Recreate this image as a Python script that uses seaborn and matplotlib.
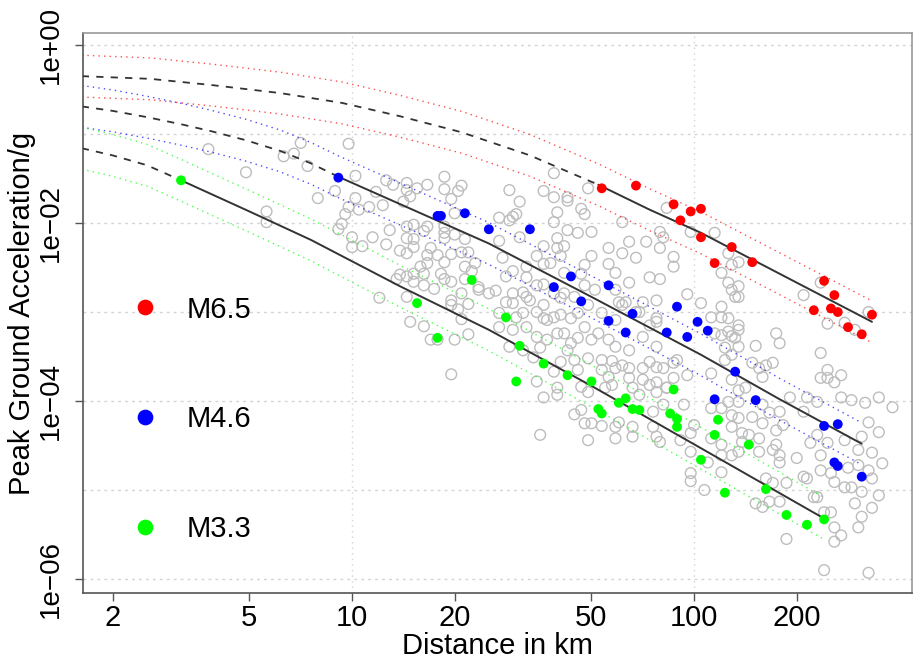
import numpy as np
import pandas as pd
import seaborn as sns
import matplotlib.pyplot as plt

# all values as log10(distance km), log10(PGA g)

# median prediction curves (nodes), index where recorded data start
m65_curve_logd = [0.21, 0.41, 0.59, 0.79, 0.97, 1.14, 1.32, 1.52, 1.72, 1.87, 2.02, 2.27, 2.52]
m65_curve_logp = [-0.35, -0.38, -0.45, -0.54, -0.65, -0.80, -0.98, -1.24, -1.57, -1.85, -2.11, -2.61, -3.11]
m65_start = 8
m46_curve_logd = [0.21, 0.30, 0.40, 0.50, 0.59, 0.69, 0.79, 0.88, 0.96, 1.40, 1.70, 2.02, 2.25, 2.49]
m46_curve_logp = [-0.69, -0.74, -0.81, -0.89, -0.97, -1.07, -1.19, -1.33, -1.48, -2.23, -2.83, -3.48, -3.98, -4.48]
m46_start = 8
m33_curve_logd = [0.21, 0.30, 0.40, 0.50, 0.70, 0.88, 1.14, 1.40, 1.70, 2.02, 2.38]
m33_curve_logp = [-1.16, -1.24, -1.35, -1.52, -1.87, -2.19, -2.71, -3.20, -3.83, -4.53, -5.32]
m33_start = 3
sigma_log = 0.235

# recordings of the three highlighted events
m65_logd = [1.73, 1.83, 1.94, 1.99, 2.02, 1.96, 2.02, 2.06, 2.11, 2.17, 2.38, 2.41, 2.35,
            2.40, 2.42, 2.52, 2.45, 2.49]
m65_logp = [-1.61, -1.58, -1.79, -1.87, -1.84, -1.97, -2.16, -2.45, -2.27, -2.44, -2.65, -2.81,
            -2.98, -2.96, -3.00, -3.03, -3.17, -3.25]
m46_logd = [0.96, 1.25, 1.26, 1.33, 1.40, 1.52, 1.64, 1.59, 1.75, 1.67, 1.82, 1.75, 1.80,
            1.95, 2.01, 1.92, 1.98, 2.04, 2.12, 2.06, 2.18, 2.38, 2.42, 2.41, 2.42, 2.49]
m46_logp = [-1.49, -1.92, -1.92, -1.89, -2.07, -2.07, -2.60, -2.72, -2.70, -2.88, -3.02, -3.10,
            -3.23, -2.94, -3.11, -3.23, -3.28, -3.21, -3.67, -3.98, -3.99, -4.28, -4.26, -4.69,
            -4.73, -4.85]
m33_logd = [0.50, 1.19, 1.25, 1.35, 1.45, 1.49, 1.48, 1.56, 1.63, 1.70, 1.72, 1.73, 1.78,
            1.80, 1.82, 1.84, 1.93, 1.94, 1.95, 1.95, 2.02, 2.07, 2.06, 2.16, 2.09, 2.21,
            2.27, 2.33, 2.38]
m33_logp = [-1.52, -2.90, -3.29, -2.64, -3.06, -3.38, -3.78, -3.58, -3.71, -3.78, -4.09, -4.14,
            -4.02, -3.97, -4.09, -4.10, -4.14, -3.87, -4.20, -4.29, -4.66, -4.21, -4.38, -4.49,
            -5.03, -4.99, -5.28, -5.39, -5.33]

# all other recordings (grey)
other_records = [
    (0.58, -1.17), (0.69, -1.43), (0.75, -1.87), (0.75, -1.99), (0.80, -1.25), (0.83, -1.22),
    (0.85, -1.10), (0.87, -1.36), (0.90, -1.72), (0.95, -1.64), (0.99, -1.11), (1.01, -1.47),
    (0.99, -1.82), (1.01, -1.72), (1.02, -1.85), (0.97, -2.01), (0.96, -2.07), (0.98, -1.90),
    (1.00, -2.16), (1.03, -2.26), (1.00, -2.27), (1.06, -2.16), (1.05, -1.82), (1.07, -1.65),
    (1.09, -1.80), (1.10, -2.24), (1.11, -2.08), (1.10, -1.52), (1.12, -1.57), (1.16, -1.63),
    (1.16, -1.55), (1.17, -1.70), (1.15, -1.76), (1.19, -1.61), (1.22, -1.57), (1.27, -1.48),
    (1.27, -1.62), (1.31, -1.64), (1.32, -1.58), (1.29, -1.73), (1.30, -1.89), (1.22, -2.04),
    (1.27, -2.04), (1.27, -2.11), (1.30, -2.13), (1.33, -2.18), (1.27, -2.17), (1.18, -2.02),
    (1.21, -2.09), (1.16, -2.04), (1.14, -2.31), (1.16, -2.34), (1.16, -2.17), (1.18, -2.18),
    (1.18, -2.27), (1.23, -2.28), (1.25, -2.36), (1.22, -2.36), (1.29, -2.35), (1.32, -2.33),
    (1.34, -2.33), (1.27, -2.44), (1.20, -2.49), (1.22, -2.45), (1.33, -2.49), (1.36, -2.45),
    (1.35, -2.54), (1.14, -2.58), (1.16, -2.60), (1.18, -2.57), (1.21, -2.57), (1.13, -2.63),
    (1.18, -2.66), (1.21, -2.70), (1.26, -2.57), (1.27, -2.63), (1.29, -2.66), (1.24, -2.74),
    (1.33, -2.63), (1.37, -2.72), (1.37, -2.75), (1.40, -2.79), (1.32, -2.79), (1.29, -2.87),
    (1.29, -2.92), (1.34, -2.91), (1.31, -2.97), (1.32, -3.08), (1.08, -2.84), (1.16, -2.83),
    (1.17, -3.11), (1.21, -3.16), (1.23, -3.31), (1.25, -3.31), (1.30, -3.31), (1.34, -3.25),
    (1.29, -3.70),
    (1.59, -1.44), (1.46, -1.63), (1.49, -1.76), (1.56, -1.64), (1.59, -1.71), (1.63, -1.71),
    (1.63, -1.75), (1.69, -1.61), (1.60, -1.88), (1.59, -1.99), (1.67, -1.84), (1.68, -1.90),
    (1.43, -1.94), (1.47, -1.93), (1.48, -1.90), (1.46, -1.97), (1.63, -2.08), (1.66, -2.11),
    (1.70, -2.10), (1.79, -1.99), (1.90, -2.10), (1.91, -2.16), (1.99, -2.10), (1.43, -2.20),
    (1.49, -2.16), (1.60, -2.17), (1.56, -2.26), (1.60, -2.28), (1.62, -2.26), (1.61, -2.37),
    (1.54, -2.37), (1.44, -2.39), (1.70, -2.37), (1.75, -2.28), (1.79, -2.34), (1.81, -2.21),
    (1.86, -2.21), (1.90, -2.28), (1.94, -2.38), (1.83, -2.39), (1.94, -2.49), (1.75, -2.46),
    (1.68, -2.47), (1.58, -2.45), (1.56, -2.46), (1.51, -2.49), (1.47, -2.54), (1.45, -2.60),
    (1.51, -2.61), (1.62, -2.56), (1.67, -2.57), (1.77, -2.56), (1.87, -2.61), (1.90, -2.63),
    (1.68, -2.70), (1.71, -2.75), (1.81, -2.67), (1.77, -2.75), (1.54, -2.70), (1.56, -2.69),
    (1.42, -2.76), (1.47, -2.79), (1.50, -2.78), (1.51, -2.83), (1.52, -2.87), (1.59, -2.79),
    (1.61, -2.84), (1.62, -2.79), (1.65, -2.83), (1.69, -2.92), (1.78, -2.89), (1.79, -2.92),
    (1.80, -2.89), (1.85, -2.89), (1.89, -2.87), (1.98, -2.80), (1.45, -2.89), (1.47, -2.90),
    (1.48, -3.06), (1.50, -3.01), (1.54, -3.00), (1.56, -2.92), (1.56, -3.07), (1.57, -3.09),
    (1.59, -3.06), (1.61, -3.03), (1.64, -3.07), (1.66, -3.01), (1.68, -3.17), (1.73, -3.01),
    (1.77, -3.09), (1.83, -3.00), (1.84, -3.00), (1.89, -3.07), (1.89, -3.11), (1.87, -3.15),
    (1.43, -3.01), (1.43, -3.17), (1.47, -3.20), (1.51, -3.17), (1.54, -3.28), (1.57, -3.31),
    (1.60, -3.24), (1.62, -3.24), (1.64, -3.35), (1.66, -3.29), (1.70, -3.31), (1.72, -3.24),
    (1.75, -3.31), (1.77, -3.39), (1.81, -3.43), (1.85, -3.28), (1.89, -3.39), (1.46, -3.39),
    (1.50, -3.43), (1.55, -3.40), (1.63, -3.43), (1.92, -1.83),
    (2.06, -2.11), (2.10, -2.34), (2.11, -2.47), (2.13, -2.44), (2.08, -2.56), (2.10, -2.67),
    (2.11, -2.75), (2.13, -2.71), (2.12, -2.83), (2.13, -2.83), (2.32, -2.81), (2.37, -2.67),
    (2.51, -3.00), (2.39, -3.13), (2.44, -3.12), (2.47, -3.20), (2.02, -2.90), (2.08, -2.94),
    (2.05, -3.06), (2.08, -3.06), (2.10, -3.07), (2.13, -3.15), (2.06, -3.24), (2.08, -3.26),
    (2.10, -3.22), (2.11, -3.27), (2.12, -3.29), (2.13, -3.20), (2.13, -3.39), (2.09, -3.40),
    (2.18, -3.38), (2.24, -3.24), (2.25, -3.35), (2.37, -3.46),
    (1.53, -3.51), (1.61, -3.56), (1.65, -3.54), (1.69, -3.52), (1.73, -3.54), (1.76, -3.55),
    (1.77, -3.63), (1.79, -3.60), (1.81, -3.63), (1.85, -3.63), (1.87, -3.56), (1.89, -3.62),
    (1.91, -3.63), (1.94, -3.57), (1.95, -3.54), (1.98, -3.71), (1.59, -3.67), (1.66, -3.65),
    (1.73, -3.65), (1.75, -3.73), (1.76, -3.82), (1.81, -3.74), (1.85, -3.76), (1.87, -3.82),
    (1.89, -3.79), (1.92, -3.85), (1.94, -3.74), (1.54, -3.78), (1.56, -3.96), (1.60, -3.85),
    (1.60, -3.93), (1.67, -3.84), (1.69, -3.90), (1.74, -3.85), (1.82, -3.85), (1.84, -3.93),
    (1.89, -3.90), (1.92, -3.85), (1.67, -4.10), (1.65, -4.15), (1.68, -4.25), (1.70, -4.25),
    (1.73, -4.28), (1.77, -4.29), (1.78, -4.24), (1.82, -4.29), (1.88, -4.29), (1.88, -4.12),
    (1.91, -4.04), (1.97, -4.04), (1.99, -4.36), (2.00, -4.27), (1.89, -4.40), (1.90, -4.46),
    (1.82, -4.40), (1.77, -4.42), (1.69, -4.44), (1.55, -4.38), (1.96, -4.44), (1.99, -4.57),
    (1.99, -4.81), (1.99, -4.90),
    (2.09, -3.54), (2.11, -3.48), (2.19, -3.63), (2.21, -3.60), (2.23, -3.57), (2.20, -3.73),
    (2.17, -3.57), (2.05, -3.69), (2.11, -3.76), (2.13, -3.88), (2.15, -3.85), (2.10, -4.01),
    (2.13, -4.01), (2.20, -4.04), (2.05, -4.08), (2.08, -4.08), (2.11, -4.16), (2.17, -4.18),
    (2.22, -4.13), (2.25, -4.12), (2.13, -4.19), (2.11, -4.29), (2.20, -4.25), (2.24, -4.33),
    (2.26, -4.27), (2.28, -3.96), (2.32, -4.12), (2.33, -3.96), (2.36, -4.01), (2.39, -3.65),
    (2.37, -3.74), (2.39, -3.74), (2.41, -3.79), (2.43, -3.71), (2.43, -3.96), (2.46, -3.99),
    (2.50, -4.02), (2.54, -3.96), (2.58, -4.07), (2.54, -4.35), (2.51, -4.24), (2.49, -4.40),
    (2.48, -4.55), (2.52, -4.58), (2.55, -4.70), (2.52, -4.87), (2.44, -4.44), (2.39, -4.47),
    (2.36, -4.38), (2.34, -4.47), (2.30, -4.64), (2.37, -4.61), (2.37, -4.78), (2.41, -4.91),
    (2.45, -4.75), (2.48, -4.72), (2.51, -4.78), (2.40, -4.81), (2.33, -4.87), (2.32, -4.85),
    (2.27, -4.92), (2.24, -4.49), (2.23, -4.55), (2.25, -4.61), (2.25, -4.69), (2.21, -4.87),
    (2.23, -4.92), (2.19, -4.57), (2.16, -4.38), (2.19, -4.42), (2.14, -4.36), (2.14, -4.46),
    (2.08, -4.49), (2.08, -4.61), (2.11, -4.61), (2.13, -4.57), (2.05, -4.42), (2.04, -4.69),
    (2.08, -4.80), (2.03, -5.00), (2.18, -5.15), (2.20, -5.19), (2.22, -5.13), (2.25, -5.13),
    (2.35, -5.08), (2.36, -5.08), (2.44, -4.97), (2.46, -4.97), (2.49, -5.02), (2.54, -5.06),
    (2.47, -5.15), (2.52, -5.20), (2.38, -5.25), (2.40, -5.25), (2.41, -5.42), (2.43, -5.51),
    (2.48, -5.42), (2.49, -5.30), (2.41, -5.58), (2.27, -5.55), (2.38, -5.90), (2.51, -5.93),
]

event_labels = ["M6.5", "M4.6", "M3.3"]
event_colors = ["#ff0000", "#0000ff", "#00ff00"]
x_ticks = [2, 5, 10, 20, 50, 100, 200]
y_ticks = [1e0, 1e-2, 1e-4, 1e-6]
y_tick_labels = ["1e+00", "1e\u221202", "1e\u221204", "1e\u221206"]

# ---- build data frames
bg = pd.DataFrame(other_records, columns=["logd", "logp"])
bg["dist"] = 10 ** bg["logd"]
bg["pga"] = 10 ** bg["logp"]

events = pd.concat([
    pd.DataFrame({"logd": m65_logd, "logp": m65_logp, "event": "M6.5"}),
    pd.DataFrame({"logd": m46_logd, "logp": m46_logp, "event": "M4.6"}),
    pd.DataFrame({"logd": m33_logd, "logp": m33_logp, "event": "M3.3"}),
], ignore_index=True)
events["dist"] = 10 ** events["logd"]
events["pga"] = 10 ** events["logp"]

curves = [
    (m65_curve_logd, m65_curve_logp, m65_start, event_colors[0]),
    (m46_curve_logd, m46_curve_logp, m46_start, event_colors[1]),
    (m33_curve_logd, m33_curve_logp, m33_start, event_colors[2]),
]

# ---- plot
sns.set_style("white")
plt.rcParams["font.family"] = ["Liberation Sans", "DejaVu Sans"]
plt.rcParams["text.color"] = "black"
plt.rcParams["axes.labelcolor"] = "black"

fig = plt.figure(figsize=(9.13, 6.6), dpi=100)
ax = fig.add_axes([83 / 913, 67 / 660, 829 / 913, 560 / 660])
ax.set_xscale("log")
ax.set_yscale("log")

# grid (R style dotted)
for yv in [1e0, 1e-1, 1e-2, 1e-3, 1e-4, 1e-5, 1e-6]:
    ax.axhline(yv, color="#d3d3d3", lw=1, ls=(0, (2, 3)), zorder=0)
for xv in [10, 100]:
    ax.axvline(xv, color="#d3d3d3", lw=1, ls=(0, (1, 3)), zorder=0)

sns.scatterplot(data=bg, x="dist", y="pga", ax=ax, s=60, marker="o",
                facecolor="none", edgecolor="#bdbdbd", linewidth=1.0, zorder=2)

for cd, cp, k, col in curves:
    cd = np.array(cd)
    cp = np.array(cp)
    d = 10 ** cd
    sns.lineplot(x=d[:k + 1], y=10 ** cp[:k + 1], ax=ax, sort=False, estimator=None,
                 color="#333333", lw=1.3, linestyle=(0, (4, 4)), zorder=3)
    sns.lineplot(x=d[k:], y=10 ** cp[k:], ax=ax, sort=False, estimator=None,
                 color="#333333", lw=1.4, zorder=3)
    for sgn in (1, -1):
        sns.lineplot(x=d, y=10 ** (cp + sgn * sigma_log), ax=ax, sort=False, estimator=None,
                     color=col, lw=1.0, linestyle=(0, (1, 3)), alpha=0.7, zorder=3)

sns.scatterplot(data=events, x="dist", y="pga", hue="event", hue_order=event_labels,
                palette=event_colors, ax=ax, s=50, linewidth=0, zorder=4)

ax.set_xlim(10 ** 0.2135, 10 ** 2.637)
ax.set_ylim(10 ** -6.157, 10 ** 0.135)

ax.set_xticks(x_ticks)
ax.set_xticklabels([str(v) for v in x_ticks])
ax.set_yticks(y_ticks)
ax.set_yticklabels(y_tick_labels, rotation=90, va="center")
ax.minorticks_off()
ax.tick_params(axis="both", which="major", length=6, width=1, color="#555555",
               labelsize=21, labelcolor="black", direction="out", bottom=True, left=True)
ax.tick_params(axis="y", labelsize=20)
ax.tick_params(axis="x", pad=2)
ax.tick_params(axis="y", pad=8)

ax.set_xlabel("Distance in km", fontsize=21, labelpad=0, color="black")
ax.set_ylabel("Peak Ground Acceleration/g", fontsize=21, labelpad=1, color="black")

for side in ["left", "bottom"]:
    ax.spines[side].set_color("#555555")
    ax.spines[side].set_linewidth(1.2)
for side in ["top", "right"]:
    ax.spines[side].set_color("#999999")
    ax.spines[side].set_linewidth(1.2)

sns.move_legend(ax, "upper left", bbox_to_anchor=(0.025, 0.552), title=None, frameon=False,
                fontsize=21, markerscale=1.6, labelspacing=2.8, handletextpad=0.45,
                borderaxespad=0)
for t in ax.get_legend().get_texts():
    t.set_color("black")

fig.savefig("out.png", dpi=100)
